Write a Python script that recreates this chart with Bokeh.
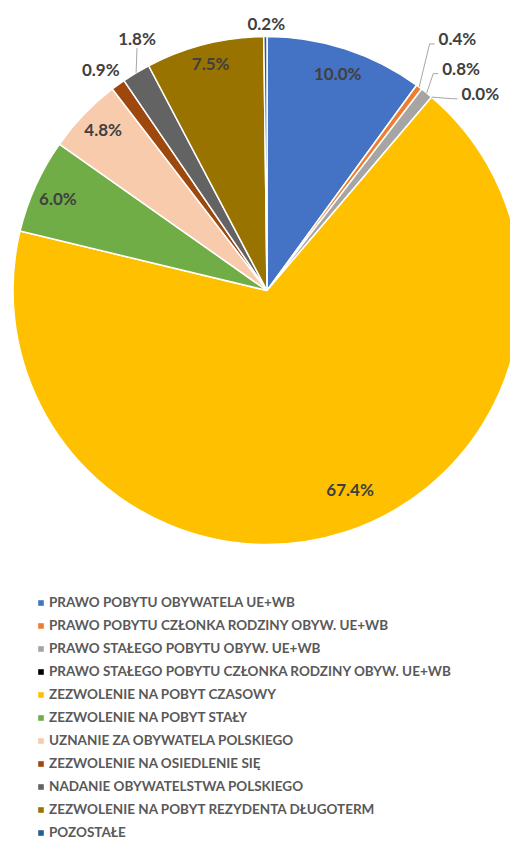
import numpy as np
from bokeh.plotting import figure
from bokeh.models import Range1d, Legend, LegendItem, ColumnDataSource
from bokeh.embed import file_html
from bokeh.resources import INLINE
from bokeh.core.properties import value

categories = [
    "PRAWO POBYTU OBYWATELA UE+WB",
    "PRAWO POBYTU CZŁONKA RODZINY OBYW. UE+WB",
    "PRAWO STAŁEGO POBYTU OBYW. UE+WB",
    "PRAWO STAŁEGO POBYTU CZŁONKA RODZINY OBYW. UE+WB",
    "ZEZWOLENIE NA POBYT CZASOWY",
    "ZEZWOLENIE NA POBYT STAŁY",
    "UZNANIE ZA OBYWATELA POLSKIEGO",
    "ZEZWOLENIE NA OSIEDLENIE SIĘ",
    "NADANIE OBYWATELSTWA POLSKIEGO",
    "ZEZWOLENIE NA POBYT REZYDENTA DŁUGOTERM",
    "POZOSTAŁE",
]
shares = [10.0, 0.4, 0.8, 0.0, 67.4, 6.0, 4.8, 0.9, 1.8, 7.5, 0.2]
colors = ["#4472C4", "#ED7D31", "#A5A5A5", "#000000", "#FFC000", "#70AD47",
          "#F8CBAD", "#9E480E", "#636363", "#997300", "#255E91"]

# layout (screenshot pixel space, y up = negative screenshot y)
CX, CY, R = 266.5, -290.0, 254.0
# label placement: (radius factor, angle offset deg clockwise, align, leader)
label_layout = [
    (0.90, 0.0, "center", None),
    (1.199, -2.5, "left", "elbow"),
    (1.113, -0.65, "left", "elbow"),
    (1.089, 4.26, "left", "elbow"),
    (0.85, -4.6, "center", None),
    (0.90, -0.5, "center", None),
    (0.905, 0.7, "center", None),
    (1.09, -1.0, "center", None),
    (1.115, 3.7, "center", "down"),
    (0.92, 0.3, "center", None),
    (1.05, 0.2, "center", None),
]

vals = np.array(shares, dtype=float)
total = vals.sum()
cum = np.concatenate([[0.0], np.cumsum(vals)])
start = np.pi / 2 - 2 * np.pi * cum[1:] / total
end = np.pi / 2 - 2 * np.pi * cum[:-1] / total
mid = (start + end) / 2
alpha = np.where(vals > 0, 1.0, 0.0)  # zero-width slices are not drawn

src = ColumnDataSource(dict(start=start, end=end, color=colors, cat=categories,
                            alpha=alpha))

p = figure(width=510, height=842, output_backend="svg", toolbar_location=None,
           x_range=Range1d(0, 510), y_range=Range1d(-842, 0),
           x_axis_location=None, y_axis_location=None, min_border=0)
p.grid.visible = False
p.outline_line_color = None
p.background_fill_color = "white"

r = p.wedge(x=CX, y=CY, radius=R, start_angle="start", end_angle="end",
            direction="anticlock", fill_color="color", fill_alpha="alpha",
            line_color="white", line_alpha="alpha",
            line_width=1.5, source=src)

# labels
lx, ly, lt, la = [], [], [], []
lead_xs, lead_ys = [], []
for i, (rf, off, align, leader) in enumerate(label_layout):
    a = mid[i] + np.deg2rad(-off)
    x = CX + rf * R * np.cos(a)
    y = CY + rf * R * np.sin(a)
    lx.append(x); ly.append(y); lt.append(f"{shares[i]:.1f}%"); la.append(align)
    if leader is not None:
        sx = CX + R * np.cos(mid[i])
        sy = CY + R * np.sin(mid[i])
        if leader == "elbow":
            ex, ey = x - 4, y - 5
            lead_xs.append([sx, ex - 5, ex]); lead_ys.append([sy, ey, ey])
        else:
            lead_xs.append([sx, x]); lead_ys.append([sy, y - 9])

p.multi_line(lead_xs, lead_ys, line_color="#A6A6A6", line_width=1)

for align in ("center", "left"):
    idx = [k for k in range(len(lt)) if la[k] == align]
    p.text(x=[lx[k] for k in idx], y=[ly[k] for k in idx], text=[lt[k] for k in idx],
           text_align=align, text_baseline="middle",
           text_font=value("Lato"), text_font_style="bold",
           text_font_size="17px", text_color="#404040")

# legend swatches (zero slices still listed in the legend)
legend_src = ColumnDataSource(dict(start=start, end=start, color=colors))
lr = p.wedge(x=CX, y=CY, radius=0, start_angle="start", end_angle="end",
             fill_color="color", line_color=None, source=legend_src)

items = [LegendItem(label=c, renderers=[lr], index=i) for i, c in enumerate(categories)]
legend = Legend(items=items, location=(37, 1), orientation="vertical",
                glyph_width=7, glyph_height=7, label_standoff=5,
                label_height=18, spacing=5, padding=0, margin=0,
                label_text_font="Lato", label_text_font_style="bold",
                label_text_font_size="13.5px", label_text_color="#595959",
                border_line_color=None, background_fill_alpha=0)
p.add_layout(legend)

open("out.html", "w").write(file_html(p, INLINE))
